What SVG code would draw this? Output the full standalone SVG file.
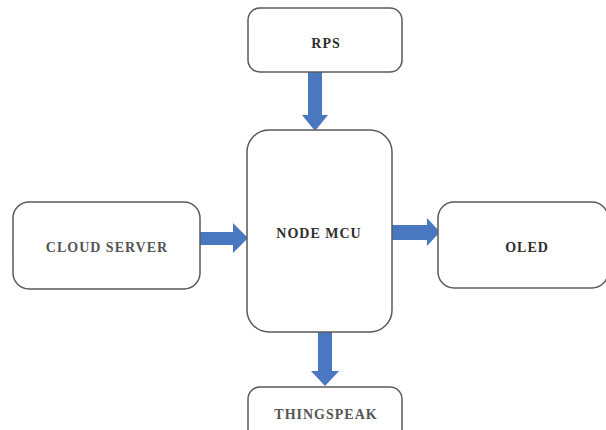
<svg xmlns="http://www.w3.org/2000/svg" width="606" height="430" viewBox="0 0 606 430">
<style>
.box{fill:#fff;stroke:#5a5a5a;stroke-width:1.5}
.lbl{font-family:"Liberation Serif","Times New Roman",serif;font-weight:bold;font-size:14px;letter-spacing:1px;text-anchor:middle;fill:#2e2e2e}
.lbl.g{fill:#555}
.arr{fill:#4a78c0}
</style>
<rect width="606" height="430" fill="#fff"/>
<g id="connectors">
<polygon class="arr" points="308,72 322,72 322,115 328,115 315,131 302,115 308,115"/>
<polygon class="arr" points="200,232 233,232 233,223 248,238 233,253 233,245 200,245"/>
<polygon class="arr" points="388,225 427,225 427,218 440,232 427,246 427,240 388,240"/>
<polygon class="arr" points="318,332 332,332 332,371 339,371 325,386 311,371 318,371"/>
</g>
<g id="rps">
<rect class="box" x="248" y="8" width="154" height="64" rx="12"/>
<text class="lbl" x="326" y="48">RPS</text>
</g>
<g id="nodemcu">
<rect class="box" x="247" y="130" width="145" height="202" rx="22"/>
<text class="lbl" x="319" y="238">NODE MCU</text>
</g>
<g id="cloud">
<rect class="box" x="13" y="202" width="187" height="87" rx="16"/>
<text class="lbl g" x="107" y="252">CLOUD SERVER</text>
</g>
<g id="oled">
<rect class="box" x="438" y="202" width="170" height="86" rx="16"/>
<text class="lbl" x="527" y="252">OLED</text>
</g>
<g id="thingspeak">
<rect class="box" x="248" y="387" width="154" height="60" rx="12"/>
<text class="lbl g" x="326" y="419">THINGSPEAK</text>
</g>
</svg>
